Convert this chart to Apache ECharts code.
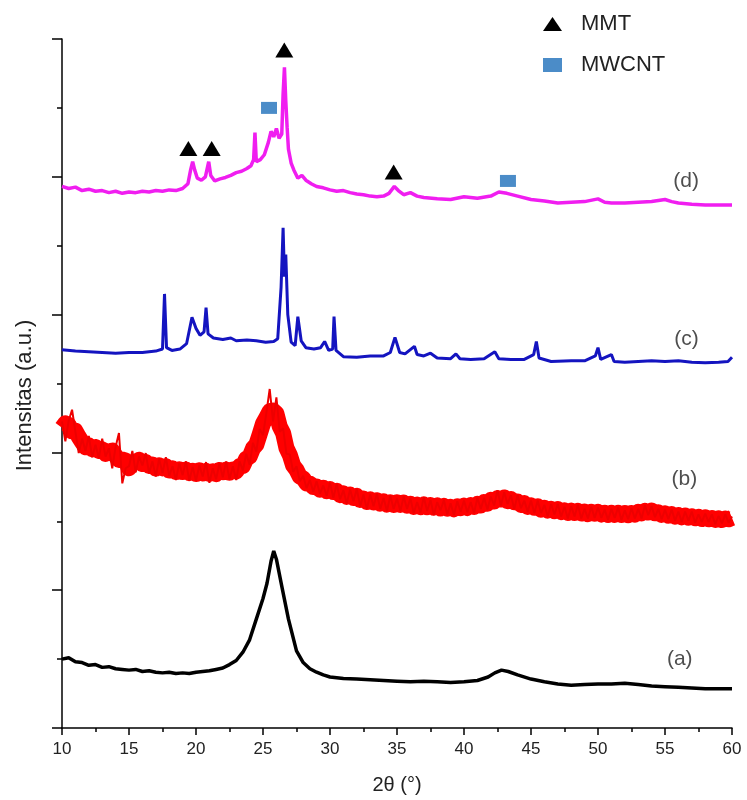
<!DOCTYPE html>
<html>
<head>
<meta charset="utf-8">
<script src="https://cdn.jsdelivr.net/npm/echarts@6/dist/echarts.min.js"></script>
<style>html,body{margin:0;padding:0;background:#fff}#c{width:747px;height:800px}</style>
</head>
<body>
<div id="c"></div>
<script>
// ---- data ----
const xTicks = [10, 15, 20, 25, 30, 35, 40, 45, 50, 55, 60];

// (a) black
const seriesA = [[10,1.00],[10.5,1.02],[11,0.96],[11.5,0.95],[12,0.91],[12.5,0.92],[13,0.88],[13.5,0.89],[14,0.86],[14.5,0.85],[15,0.84],[15.5,0.85],[16,0.82],[16.5,0.83],[17,0.81],[17.5,0.80],[18,0.81],[18.5,0.79],[19,0.80],[19.5,0.79],[20,0.81],[20.5,0.82],[21,0.83],[21.5,0.85],[22,0.87],[22.5,0.92],[23,0.98],[23.5,1.10],[24,1.28],[24.5,1.58],[25,1.88],[25.3,2.10],[25.6,2.42],[25.8,2.57],[26.0,2.45],[26.4,2.06],[26.9,1.58],[27.5,1.12],[28,0.95],[28.5,0.86],[29,0.81],[29.5,0.77],[30,0.74],[31,0.72],[32,0.71],[33,0.70],[34,0.69],[35,0.68],[36,0.67],[37,0.68],[38,0.67],[39,0.66],[40,0.67],[41,0.69],[41.8,0.74],[42.3,0.80],[42.8,0.84],[43.3,0.82],[44,0.77],[45,0.71],[46,0.67],[47,0.64],[48,0.62],[49,0.63],[50,0.64],[51,0.64],[52,0.65],[53,0.63],[54,0.61],[55,0.60],[56,0.59],[57,0.58],[58,0.57],[59,0.57],[60,0.57]];

// (b) red, sampled every 0.25 deg from 10 to 60
const redStart = 10, redStep = 0.25;
const redValues = [
 4.45,4.16,4.46,4.62,4.30,3.99,4.20,4.02,4.24,3.93,4.11,3.92,4.20,3.94,4.06,3.77,4.08,4.28,3.55,3.77,
 3.80,4.02,3.71,3.94,3.81,3.99,3.70,3.87,3.65,3.91,3.70,3.93,3.66,3.80,3.60,3.84,3.67,3.87,3.59,3.79,
 3.59,3.81,3.65,3.86,3.56,3.77,3.61,3.84,3.64,3.87,3.61,3.80,3.60,3.87,3.74,3.98,3.82,4.14,4.01,4.34,
 4.25,4.57,4.92,4.45,4.80,4.30,4.35,3.98,3.97,3.72,3.80,3.58,3.66,3.48,3.60,3.43,3.58,3.40,3.52,3.37,
 3.56,3.34,3.54,3.32,3.45,3.26,3.46,3.29,3.47,3.22,3.39,3.18,3.39,3.22,3.40,3.18,3.34,3.15,3.37,3.18,
 3.33,3.15,3.36,3.18,3.33,3.12,3.28,3.13,3.35,3.15,3.31,3.09,3.28,3.16,3.31,3.10,3.26,3.09,3.29,3.14,
 3.30,3.13,3.28,3.12,3.34,3.18,3.34,3.17,3.36,3.23,3.45,3.23,3.42,3.25,3.38,3.18,3.38,3.19,3.30,3.14,
 3.30,3.12,3.30,3.12,3.24,3.07,3.25,3.10,3.25,3.07,3.21,3.04,3.22,3.07,3.24,3.04,3.18,3.04,3.21,3.05,
 3.20,3.05,3.17,3.02,3.18,3.05,3.20,3.02,3.16,3.03,3.19,3.04,3.18,3.04,3.23,3.09,3.22,3.06,3.18,3.03,
 3.17,3.03,3.17,3.01,3.14,2.99,3.14,3.01,3.14,2.98,3.10,2.99,3.11,2.99,3.10,2.96,3.08,2.97,3.10,2.98,3.07
];

// (c) blue
const seriesC = [[10,5.49],[11,5.47],[12,5.46],[13,5.45],[14,5.44],[15,5.45],[16,5.45],[17,5.47],[17.5,5.50],[17.65,6.30],[17.8,5.52],[18.2,5.48],[18.8,5.50],[19.3,5.58],[19.7,5.96],[20.0,5.80],[20.3,5.70],[20.6,5.75],[20.75,6.10],[20.9,5.72],[21.3,5.66],[22,5.64],[22.6,5.66],[23,5.62],[23.8,5.63],[24.5,5.62],[25.2,5.60],[25.8,5.61],[26.1,5.65],[26.35,6.40],[26.5,7.26],[26.6,6.55],[26.7,6.87],[26.85,6.00],[27.1,5.60],[27.4,5.55],[27.6,5.97],[27.85,5.62],[28.2,5.52],[28.8,5.50],[29.3,5.52],[29.6,5.61],[29.9,5.48],[30.2,5.50],[30.3,5.97],[30.45,5.48],[31,5.39],[32,5.38],[33,5.40],[34,5.40],[34.5,5.45],[34.85,5.67],[35.2,5.45],[35.6,5.43],[36.3,5.54],[36.5,5.42],[37,5.40],[37.5,5.44],[38,5.37],[39,5.36],[39.4,5.43],[39.7,5.36],[40.5,5.35],[41.5,5.36],[42.3,5.46],[42.6,5.36],[43.5,5.35],[44.5,5.35],[45.2,5.42],[45.4,5.61],[45.6,5.37],[46.5,5.32],[48,5.33],[49,5.33],[49.8,5.40],[50.0,5.52],[50.2,5.35],[51.0,5.42],[51.2,5.32],[52,5.31],[53,5.32],[54,5.33],[55,5.32],[56,5.33],[57,5.31],[58,5.30],[59,5.31],[59.7,5.32],[60,5.38]];

// (d) magenta
const seriesD = [[10,7.86],[10.5,7.83],[11,7.85],[11.5,7.80],[12,7.82],[12.5,7.79],[13,7.80],[13.5,7.77],[14,7.79],[14.5,7.76],[15,7.78],[15.5,7.77],[16,7.79],[16.5,7.78],[17,7.80],[17.5,7.79],[18,7.81],[18.5,7.80],[19,7.83],[19.4,7.90],[19.6,8.10],[19.75,8.22],[19.9,8.10],[20.1,7.98],[20.4,7.95],[20.7,8.00],[20.95,8.22],[21.1,8.02],[21.4,7.94],[21.8,7.97],[22.2,7.99],[22.6,8.02],[23,8.06],[23.4,8.08],[23.8,8.12],[24.1,8.16],[24.3,8.25],[24.4,8.64],[24.5,8.22],[24.8,8.25],[25.1,8.32],[25.4,8.50],[25.6,8.66],[25.8,8.58],[26.0,8.70],[26.2,8.56],[26.4,8.62],[26.5,9.20],[26.6,9.59],[26.7,9.10],[26.8,8.72],[26.9,8.40],[27.1,8.20],[27.3,8.10],[27.6,7.98],[27.9,8.02],[28.2,7.95],[28.6,7.90],[29,7.86],[29.5,7.84],[30,7.81],[30.5,7.79],[31,7.80],[31.5,7.77],[32,7.75],[32.5,7.74],[33,7.72],[33.5,7.71],[34,7.72],[34.4,7.76],[34.8,7.86],[35.1,7.80],[35.5,7.74],[36,7.77],[36.5,7.72],[37,7.70],[38,7.68],[39,7.67],[40,7.71],[41,7.69],[42,7.72],[42.6,7.78],[43.2,7.76],[44,7.72],[45,7.67],[46,7.65],[47,7.62],[48,7.63],[49,7.64],[50,7.68],[50.5,7.63],[51,7.62],[52,7.62],[53,7.63],[54,7.64],[55,7.67],[55.5,7.64],[56,7.62],[57,7.60],[58,7.59],[59,7.59],[60,7.59]];

// peak markers
const mmtX = [19.43, 21.17, 26.59, 34.75];
const mmtY = [8.41, 8.41, 9.84, 8.07];
const mwcntX = [25.45, 43.28];
const mwcntY = [9.00, 7.94];

// curve labels
const curveLabels = ['(d)', '(c)', '(b)', '(a)'];
const labelX = [56.57, 56.6, 56.45, 56.1];
const labelY = [7.93, 5.64, 3.61, 1.00];

// ---- build ----
const seriesB = redValues.map((v, i) => [redStart + i * redStep, v]);
// band through the red trace: running mean of the read values (5 samples)
const seriesBBand = redValues.map((v, i) => {
  let s = 0, n = 0;
  for (let k = Math.max(0, i - 2); k <= Math.min(redValues.length - 1, i + 2); k++) { s += redValues[k]; n++; }
  return [redStart + i * redStep, s / n];
});
const mmtData = mmtX.map((x, i) => [x, mmtY[i]]);
const mwcntData = mwcntX.map((x, i) => [x, mwcntY[i]]);
const labelData = curveLabels.map((t, i) => [labelX[i], labelY[i], t]);

const FONT = '"Liberation Sans", Arial, sans-serif';
const chart = echarts.init(document.getElementById('c'), null, {renderer: 'canvas'});
const lineBase = {type: 'line', showSymbol: false, symbol: 'none', animation: false, silent: true};
chart.setOption({
  animation: false,
  backgroundColor: '#fff',
  grid: {left: 62, right: 15, top: 39, bottom: 71, containLabel: false},
  legend: {
    orient: 'vertical', left: 538, top: 8, itemWidth: 19, itemHeight: 14, itemGap: 19,
    selectedMode: false,
    textStyle: {fontFamily: FONT, fontSize: 22, color: '#222', lineHeight: 22,
      rich: {t: {fontFamily: FONT, fontSize: 22, color: '#222', padding: [0, 0, 0, 14]}}},
    formatter: n => '{t|' + n + '}',
    data: [{name: 'MMT', icon: 'triangle'}, {name: 'MWCNT', icon: 'rect'}]
  },
  xAxis: {
    type: 'value', min: 10, max: 60, interval: 5,
    name: '2θ (°)', nameLocation: 'middle', nameGap: 47,
    nameTextStyle: {fontFamily: FONT, fontSize: 20, color: '#222'},
    axisLine: {show: true, onZero: false, lineStyle: {color: '#000', width: 1.5}},
    axisTick: {show: true, inside: false, length: 7, lineStyle: {color: '#000', width: 1.5}},
    minorTick: {show: true, splitNumber: 2, length: 4, lineStyle: {color: '#000', width: 1.5}},
    axisLabel: {fontFamily: FONT, fontSize: 17, color: '#222', margin: 13,
      formatter: v => xTicks.indexOf(v) >= 0 ? String(v) : ''},
    splitLine: {show: false}
  },
  yAxis: {
    type: 'value', min: 0, max: 10, interval: 2,
    name: 'Intensitas (a.u.)', nameLocation: 'middle', nameGap: 26, nameRotate: 90,
    nameTextStyle: {fontFamily: FONT, fontSize: 22, color: '#222', padding: [0, 24, 0, 0]},
    axisLine: {show: true, onZero: false, lineStyle: {color: '#000', width: 1.5}},
    axisTick: {show: true, inside: false, length: 10, lineStyle: {color: '#000', width: 1.5}},
    minorTick: {show: true, splitNumber: 2, length: 5, lineStyle: {color: '#000', width: 1.5}},
    axisLabel: {show: false},
    splitLine: {show: false}
  },
  series: [
    Object.assign({}, lineBase, {name: '(a)', data: seriesA, lineStyle: {color: '#000', width: 3.5}, itemStyle: {color: '#000'}}),
    Object.assign({}, lineBase, {name: '(b) band', data: seriesBBand, lineStyle: {color: '#ff0000', width: 16, join: 'round'}, itemStyle: {color: '#ff0000'}}),
    Object.assign({}, lineBase, {name: '(b)', data: seriesB, lineStyle: {color: '#ee0000', width: 2}, itemStyle: {color: '#ee0000'}}),
    Object.assign({}, lineBase, {name: '(c)', data: seriesC, lineStyle: {color: '#1414c0', width: 3}, itemStyle: {color: '#1414c0'}}),
    Object.assign({}, lineBase, {name: '(d)', data: seriesD, lineStyle: {color: '#f01ef0', width: 3.5}, itemStyle: {color: '#f01ef0'}}),
    {type: 'scatter', name: 'MMT', symbol: 'triangle', symbolSize: [18, 15], data: mmtData,
      itemStyle: {color: '#000', opacity: 1}, z: 5, silent: true},
    {type: 'scatter', name: 'MWCNT', symbol: 'rect', symbolSize: [16, 12], data: mwcntData,
      itemStyle: {color: '#4b8cc8', opacity: 1}, z: 5, silent: true},
    {type: 'scatter', name: 'labels', symbolSize: 1, data: labelData,
      itemStyle: {color: 'rgba(0,0,0,0)'}, silent: true, z: 6,
      label: {show: true, position: 'inside', formatter: p => p.data[2],
        fontFamily: FONT, fontSize: 21, color: '#222'}}
  ]
});
</script>
</body>
</html>
